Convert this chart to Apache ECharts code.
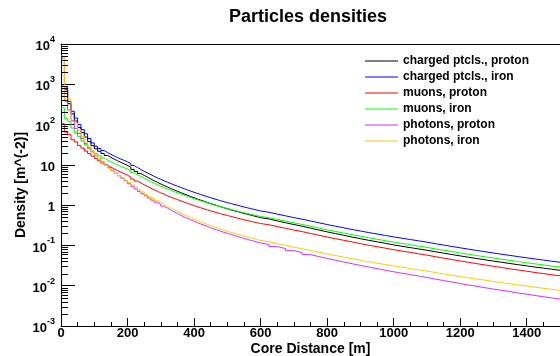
<!DOCTYPE html>
<html>
<head>
<meta charset="utf-8">
<script src="https://cdn.jsdelivr.net/npm/echarts@6/dist/echarts.min.js"></script>
<style>
  html, body { margin: 0; padding: 0; background: #fff; }
  #chart { width: 560px; height: 356px; }
</style>
</head>
<body>
<div id="chart"></div>
<script>
// bin edges of the histograms (m): 10 m bins up to 600 m, 25 m beyond
const binEdges = [
  0, 10, 20, 30, 40, 50, 60, 70, 80, 90, 100, 110, 120, 130, 140, 150, 160, 170, 180, 190,
  200, 210, 220, 230, 240, 250, 260, 270, 280, 290, 300, 310, 320, 330, 340, 350, 360, 370, 380, 390,
  400, 410, 420, 430, 440, 450, 460, 470, 480, 490, 500, 510, 520, 530, 540, 550, 560, 570, 580, 590,
  600, 625, 650, 675, 700, 725, 750, 775, 800, 825, 850, 875, 900, 925, 950, 975, 1000,
  1025, 1050, 1075, 1100, 1125, 1150, 1175, 1200, 1225, 1250, 1275, 1300, 1325, 1350, 1375, 1400,
  1425, 1450, 1475, 1500
];

// densities per bin (m^-2)
const chargedProton = [
  780, 700, 330, 185, 122, 85, 63, 49, 38, 30,
  25, 21.7, 19.2, 17.1, 15.3, 13.9, 12.6, 11.5, 10.6, 9.7,
  8.73, 7.71, 6.86, 6.11, 5.48, 4.94, 4.46, 4.04, 3.67, 3.36,
  3.07, 2.82, 2.59, 2.39, 2.21, 2.05, 1.90, 1.76, 1.63, 1.53,
  1.42, 1.33, 1.25, 1.16, 1.10, 1.03, 0.966, 0.912, 0.859, 0.813,
  0.769, 0.728, 0.692, 0.657, 0.624, 0.594, 0.566, 0.539, 0.514, 0.490,
  0.454, 0.406, 0.366, 0.330, 0.300, 0.269, 0.241, 0.217, 0.197, 0.178,
  0.161, 0.147, 0.134, 0.123, 0.113, 0.103, 0.0951, 0.0882, 0.0819, 0.0759,
  0.0698, 0.0643, 0.0594, 0.0549, 0.0509, 0.0473, 0.0439, 0.0408, 0.0381, 0.0355,
  0.0332, 0.0311, 0.0290, 0.0273, 0.0256, 0.0241
];
const chargedIron = [
  900, 820, 375, 214, 145, 100, 75, 59, 45, 35,
  29, 25.4, 22.6, 20.2, 18.2, 16.6, 15.2, 13.9, 12.9, 11.9,
  10.81, 9.60, 8.58, 7.70, 6.94, 6.28, 5.71, 5.20, 4.76, 4.37,
  4.02, 3.71, 3.43, 3.18, 2.96, 2.76, 2.57, 2.39, 2.23, 2.09,
  1.96, 1.84, 1.73, 1.62, 1.53, 1.44, 1.36, 1.29, 1.22, 1.16,
  1.10, 1.045, 0.994, 0.946, 0.902, 0.860, 0.821, 0.784, 0.749, 0.717,
  0.665, 0.599, 0.542, 0.491, 0.448, 0.405, 0.365, 0.330, 0.300, 0.273,
  0.249, 0.228, 0.209, 0.192, 0.177, 0.163, 0.151, 0.140, 0.130, 0.1205,
  0.1108, 0.1021, 0.0943, 0.0872, 0.0808, 0.0750, 0.0697, 0.0648, 0.0604, 0.0564,
  0.0527, 0.0493, 0.0461, 0.0433, 0.0406, 0.0382
];
const muonsProton = [
  105, 65, 56, 42, 37, 30, 26, 22, 19, 16.5,
  14.5, 12.6, 11.1, 9.86, 8.8, 7.97, 7.24, 6.56, 6.04, 5.52,
  4.99, 4.44, 3.96, 3.56, 3.21, 2.90, 2.64, 2.40, 2.20, 2.02,
  1.86, 1.71, 1.58, 1.47, 1.37, 1.28, 1.19, 1.11, 1.04, 0.974,
  0.915, 0.861, 0.811, 0.761, 0.721, 0.680, 0.645, 0.613, 0.581, 0.553,
  0.526, 0.501, 0.477, 0.455, 0.435, 0.415, 0.397, 0.380, 0.364, 0.349,
  0.326, 0.294, 0.266, 0.241, 0.220, 0.198, 0.179, 0.162, 0.147, 0.134,
  0.122, 0.111, 0.101, 0.0929, 0.0855, 0.0784, 0.0725, 0.0671, 0.0621, 0.0574,
  0.0526, 0.0484, 0.0446, 0.0412, 0.0381, 0.0353, 0.0327, 0.0303, 0.0282, 0.0263,
  0.0245, 0.0229, 0.0213, 0.0200, 0.0187, 0.0176
];
const muonsIron = [
  260, 140, 118, 82, 62, 50, 39, 32, 26, 22,
  19, 16.7, 14.8, 13.3, 12.0, 10.9, 10.0, 9.15, 8.5, 7.85,
  7.15, 6.36, 5.70, 5.13, 4.64, 4.21, 3.83, 3.50, 3.21, 2.95,
  2.73, 2.52, 2.34, 2.17, 2.03, 1.90, 1.77, 1.65, 1.54, 1.45,
  1.36, 1.28, 1.21, 1.14, 1.07, 1.01, 0.960, 0.913, 0.865, 0.825,
  0.784, 0.746, 0.712, 0.679, 0.649, 0.620, 0.594, 0.568, 0.545, 0.522,
  0.488, 0.441, 0.401, 0.363, 0.332, 0.300, 0.270, 0.244, 0.222, 0.202,
  0.184, 0.169, 0.155, 0.142, 0.131, 0.121, 0.112, 0.104, 0.0962, 0.0892,
  0.0821, 0.0758, 0.0702, 0.0650, 0.0603, 0.0561, 0.0522, 0.0486, 0.0454, 0.0425,
  0.0397, 0.0372, 0.0349, 0.0328, 0.0308, 0.0290
];
const photonsProton = [
  4500, 380, 230, 125, 80, 60, 45, 34, 26, 21,
  17, 14.2, 12.0, 10.1, 8.55, 7.3, 6.23, 5.35, 4.64, 3.99,
  3.39, 2.89, 2.51, 2.19, 1.92, 1.70, 1.50, 1.33, 1.18, 1.06,
  0.945, 0.846, 0.761, 0.684, 0.619, 0.560, 0.509, 0.468, 0.430, 0.397,
  0.368, 0.342, 0.318, 0.295, 0.275, 0.256, 0.239, 0.226, 0.211, 0.200,
  0.187, 0.177, 0.167, 0.157, 0.149, 0.141, 0.134, 0.127, 0.121, 0.115,
  0.105, 0.0934, 0.0835, 0.0741, 0.0663, 0.0591, 0.0529, 0.0475, 0.0429, 0.0388,
  0.0351, 0.0319, 0.0291, 0.0265, 0.0242, 0.0222, 0.0204, 0.0188, 0.0174, 0.0160,
  0.0146, 0.0134, 0.0124, 0.0113, 0.0104, 0.00968, 0.00892, 0.00823, 0.00767, 0.00711,
  0.00659, 0.00616, 0.00572, 0.00533, 0.00499, 0.00466
];
const photonsIron = [
  5000, 450, 420, 120, 110, 74, 51, 37, 29, 22,
  17.5, 14.2, 11.75, 9.8, 8.2, 7.05, 6.15, 5.42, 4.77, 4.17,
  3.63, 3.15, 2.75, 2.40, 2.11, 1.86, 1.65, 1.47, 1.31, 1.17,
  1.05, 0.942, 0.851, 0.770, 0.699, 0.635, 0.578, 0.531, 0.488, 0.451,
  0.417, 0.386, 0.360, 0.332, 0.311, 0.289, 0.271, 0.254, 0.239, 0.225,
  0.212, 0.201, 0.190, 0.180, 0.170, 0.162, 0.154, 0.147, 0.139, 0.133,
  0.123, 0.110, 0.0997, 0.0903, 0.0829, 0.0749, 0.0679, 0.0614, 0.0561, 0.0511,
  0.0468, 0.0429, 0.0395, 0.0363, 0.0336, 0.0310, 0.0287, 0.0266, 0.0247, 0.0230,
  0.0213, 0.0196, 0.0182, 0.0169, 0.0157, 0.0146, 0.0137, 0.0127, 0.0119, 0.0111,
  0.0104, 0.00976, 0.00917, 0.00862, 0.00812, 0.00764
];

const seriesNames = [
  'charged ptcls., proton',
  'charged ptcls., iron',
  'muons, proton',
  'muons, iron',
  'photons, proton',
  'photons, iron'
];
const seriesColors = ['#000000', '#0000ff', '#ff0000', '#00ff00', '#cc33ff', '#ffcc00'];
const seriesValues = [chargedProton, chargedIron, muonsProton, muonsIron, photonsProton, photonsIron];

const yTickExps = [-3, -2, -1, 0, 1, 2, 3, 4];
const fontFamily = '"Liberation Sans", Arial, Helvetica, sans-serif';

// histogram outline: value held from left edge to the next edge
const toSteps = (vals) => {
  const pts = vals.map((v, i) => [binEdges[i], v]);
  pts.push([binEdges[binEdges.length - 1], vals[vals.length - 1]]);
  return pts;
};

// log minor ticks 2..9 in each decade
const yMinorTicks = [];
for (let e = yTickExps[0]; e < yTickExps[yTickExps.length - 1]; e++) {
  for (let m = 2; m <= 9; m++) yMinorTicks.push([0, m * Math.pow(10, e)]);
}

const chart = echarts.init(document.getElementById('chart'));

const histSeries = seriesNames.map((name, i) => ({
  name,
  type: 'line',
  step: 'end',
  symbol: 'none',
  color: seriesColors[i],
  lineStyle: { width: 1, color: seriesColors[i] },
  emphasis: { disabled: true },
  data: toSteps(seriesValues[i])
}));

const option = {
  animation: false,
  backgroundColor: '#fff',
  textStyle: { fontFamily },
  title: {
    text: 'Particles densities',
    left: 229,
    top: 8,
    padding: 0,
    textStyle: { fontFamily, fontSize: 18, fontWeight: 'bold', color: '#000' }
  },
  legend: {
    orient: 'vertical',
    left: 365,
    top: 55,
    padding: 0,
    itemWidth: 33,
    itemHeight: 1,
    itemGap: 4,
    icon: 'rect',
    data: seriesNames,
    selectedMode: false,
    textStyle: { fontFamily, fontSize: 12, fontWeight: 'bold', color: '#000' }
  },
  grid: { left: 61, right: 0, top: 44, bottom: 30, show: false, outerBoundsMode: 'none', containLabel: false },
  xAxis: [
    {
      type: 'value',
      position: 'bottom',
      min: 0,
      max: 1500,
      interval: 200,
      name: 'Core Distance [m]',
      nameLocation: 'middle',
      nameGap: 16,
      nameMoveOverlap: false,
      nameTextStyle: { fontFamily, fontSize: 14, fontWeight: 'bold', color: '#000' },
      axisLine: { show: true, lineStyle: { color: '#000', width: 1 } },
      axisTick: { show: true, inside: true, length: 8, lineStyle: { color: '#000' } },
      axisLabel: {
        margin: 1,
        showMaxLabel: false,
        formatter: (v) => String(v),
        fontFamily, fontSize: 13, fontWeight: 'bold', color: '#000'
      },
      splitLine: { show: false }
    },
    {
      type: 'value',
      position: 'bottom',
      min: 0,
      max: 1500,
      interval: 50,
      axisLine: { show: false },
      axisTick: { show: true, inside: true, length: 4, lineStyle: { color: '#000' } },
      axisLabel: { show: false },
      splitLine: { show: false }
    },
    {
      type: 'value',
      position: 'top',
      min: 0,
      max: 1500,
      axisLine: { show: true, lineStyle: { color: '#000', width: 1 } },
      axisTick: { show: false },
      axisLabel: { show: false },
      splitLine: { show: false }
    }
  ],
  yAxis: {
    type: 'log',
    logBase: 10,
    min: 0.001,
    max: 10000,
    splitNumber: 7,
    name: 'Density [m^(-2)]',
    nameLocation: 'middle',
    nameGap: 33,
    nameMoveOverlap: false,
    nameRotate: 90,
    nameTextStyle: { fontFamily, fontSize: 14, fontWeight: 'bold', color: '#000' },
    axisLine: { show: true, lineStyle: { color: '#000', width: 1 } },
    axisTick: { show: true, inside: true, length: 14, lineStyle: { color: '#000' } },
    splitLine: { show: false },
    axisLabel: {
      margin: 6,
      formatter: (v) => {
        const e = Math.round(Math.log10(v));
        if (e === 0) return '{b|1}';
        if (e === 1) return '{b|10}';
        return '{b|10}{s|' + e + '}';
      },
      rich: {
        b: { fontFamily, fontSize: 13, fontWeight: 'bold', color: '#000', lineHeight: 18, verticalAlign: 'bottom' },
        s: { fontFamily, fontSize: 9, fontWeight: 'bold', color: '#000', lineHeight: 10, verticalAlign: 'top' }
      }
    }
  },
  series: [
    ...histSeries,
    {
      type: 'custom',
      silent: true,
      data: yMinorTicks,
      renderItem: (params, api) => {
        const p = api.coord([0, api.value(1)]);
        const y = Math.round(p[1]) + 0.5;
        return {
          type: 'line',
          shape: { x1: p[0], y1: y, x2: p[0] + 7, y2: y },
          style: { stroke: '#000', lineWidth: 1 }
        };
      },
      z: 5
    }
  ]
};

chart.setOption(option);
</script>
</body>
</html>
